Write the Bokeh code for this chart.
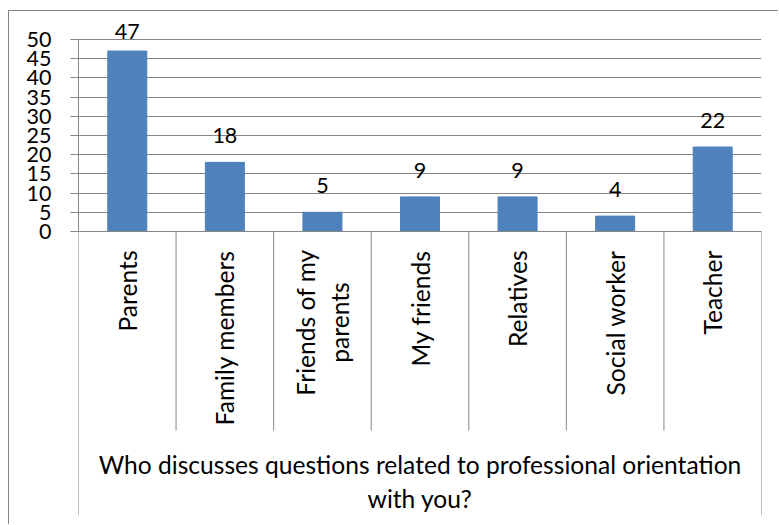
from math import pi
from bokeh.plotting import figure
from bokeh.models import Range1d, FixedTicker, ColumnDataSource
from bokeh.embed import file_html
from bokeh.resources import INLINE
from bokeh.core.properties import value

categories = ["Parents", "Family members", "Friends of my\nparents", "My friends",
              "Relatives", "Social worker", "Teacher"]
counts = [47, 18, 5, 9, 9, 4, 22]
y_ticks = [0, 5, 10, 15, 20, 25, 30, 35, 40, 45, 50]
axis_title = "Who discusses questions related to professional orientation\nwith you?"

FONT = "Lato"
FS_TICK = "21.5px"
FS = "24.6px"
GRAY = "#868686"
BLUE = "#4F81BD"

# layout (pixels)
PX = 3.839          # pixels per data unit
Y_MAX = max(y_ticks)

n = len(categories)
xs = [i + 0.5 for i in range(n)]
label_off = 18.5 / PX
label_y = [min(v + label_off, Y_MAX) for v in counts]

single = [i for i, c in enumerate(categories) if "\n" not in c]
multi = [i for i, c in enumerate(categories) if "\n" in c]

src = ColumnDataSource(dict(x=xs, v=counts, ly=label_y,
                            lab=[str(c) for c in counts]))
src_single = ColumnDataSource(dict(x=[xs[i] for i in single],
                                   cat=[categories[i] for i in single]))
src_multi = ColumnDataSource(dict(x=[xs[i] for i in multi],
                                  cat=[categories[i] for i in multi]))

y_top = Y_MAX + 24 / PX
y_bot = -(515 - 231) / PX

p = figure(width=770, height=514, output_backend="svg", toolbar_location=None,
           x_range=Range1d(0, n), y_range=Range1d(y_bot, y_top),
           x_axis_location=None, min_border_left=69, min_border_right=18,
           min_border_top=4, min_border_bottom=10)
p.outline_line_color = None
p.xgrid.visible = False
p.styles = {"margin-left": "8px", "margin-top": "10px",
            "border-left": "1px solid " + GRAY, "border-top": "1px solid " + GRAY}

# y axis
ax = p.yaxis[0]
ax.ticker = FixedTicker(ticks=y_ticks)
ax.bounds = (0, Y_MAX)
ax.axis_line_color = GRAY
ax.major_tick_line_color = GRAY
ax.major_tick_out = 8
ax.major_tick_in = 0
ax.minor_tick_line_color = None
ax.major_label_standoff = 19
ax.major_label_text_font = FONT
ax.major_label_text_font_size = FS_TICK
ax.major_label_text_color = "black"

p.ygrid.ticker = FixedTicker(ticks=y_ticks)
p.ygrid.grid_line_color = GRAY
p.ygrid.grid_line_width = 1

# bars
p.vbar(x="x", top="v", bottom=0, width=0.4, source=src,
       fill_color=BLUE, line_color=BLUE)

# value labels
p.text(x="x", y="ly", text="lab", source=src, text_align="center",
       text_baseline="alphabetic", y_offset=-8, text_font=value(FONT),
       text_font_size=FS_TICK, text_color="black")

# category separators
inner = list(range(1, n))
p.segment(x0=inner, y0=[0] * len(inner), x1=inner,
          y1=[-(430 - 231) / PX] * len(inner), line_color=GRAY, line_width=1)
p.segment(x0=[0, n], y0=[0, 0], x1=[0, n], y1=[y_bot, y_bot],
          line_color=GRAY, line_width=1)
p.segment(x0=[0], y0=[0], x1=[n], y1=[0], line_color=GRAY, line_width=1)

# category labels (rotated)
p.text(x="x", y=-(250 - 231) / PX, text="cat", source=src_single, angle=pi / 2,
       text_align="right", text_baseline="middle", text_font=value(FONT),
       text_font_size=FS, text_color="black")
p.text(x="x", y=-(322 - 231) / PX, text="cat", source=src_multi, angle=pi / 2,
       text_align="center", text_baseline="middle", text_font=value(FONT),
       text_font_size=FS, text_color="black", text_line_height=1.2)

# axis title
p.text(x=[n / 2], y=[-(450 - 231) / PX], text=[axis_title], text_align="center",
       text_baseline="top", text_font=value(FONT), text_font_size=FS,
       text_color="black", text_line_height=1.15)

open("out.html", "w").write(file_html(p, INLINE))
